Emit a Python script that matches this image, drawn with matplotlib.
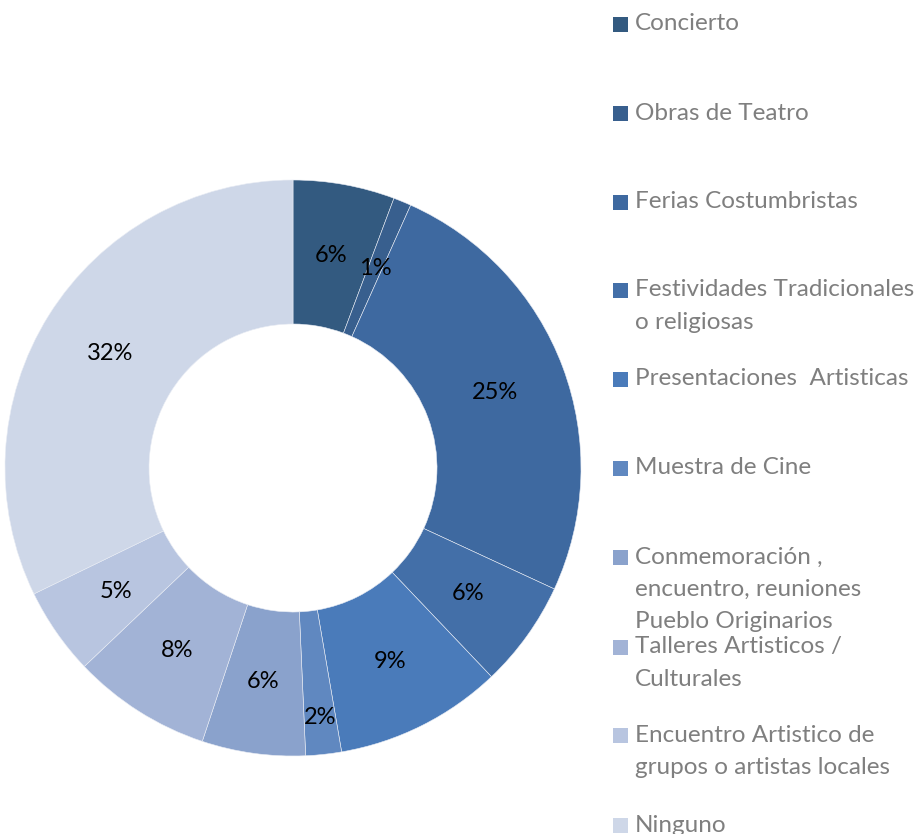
import matplotlib
matplotlib.use("Agg")
import matplotlib.pyplot as plt
import numpy as np
from matplotlib.patches import Rectangle

categories = ["Concierto", "Obras de Teatro", "Ferias Costumbristas",
              "Festividades Tradicionales\no religiosas", "Presentaciones  Artisticas",
              "Muestra de Cine", "Conmemoración ,\nencuentro, reuniones\nPueblo Originarios",
              "Talleres Artisticos /\nCulturales", "Encuentro Artistico de\ngrupos o artistas locales",
              "Ninguno"]
values = [5.7, 1.0, 25.2, 6.0, 9.4, 2.0, 5.8, 7.8, 4.9, 32.2]
labels = ["6%", "1%", "25%", "6%", "9%", "2%", "6%", "8%", "5%", "32%"]
colors = ["#335A80", "#385F8E", "#3E69A0", "#436FA8", "#4A7BBA",
          "#6088C0", "#8AA2CC", "#A2B3D6", "#B8C5E0", "#CED7E8"]
label_radius = [0.75, 0.75, 0.75, 0.75, 0.75, 0.87, 0.75, 0.75, 0.75, 0.75]

W, H = 921, 834
fig = plt.figure(figsize=(W/100, H/100), dpi=100)
fig.patch.set_facecolor("white")

cx, cy, r = 293, 468, 288
ax = fig.add_axes([(cx-r)/W, (H-cy-r)/H, 2*r/W, 2*r/H])
wedges, texts, autotexts = ax.pie(values, colors=colors, startangle=90, counterclock=False,
                                  radius=1, labels=None,
                                  autopct=lambda p: "", pctdistance=0.75,
                                  wedgeprops=dict(width=0.5, edgecolor="#E8ECF4", linewidth=0.4))
for w, t, lab, lr in zip(wedges, autotexts, labels, label_radius):
    ang = np.deg2rad((w.theta1 + w.theta2) / 2)
    t.set_position((lr * np.cos(ang), lr * np.sin(ang)))
    t.set_text(lab)
    t.set_fontsize(17)
    t.set_fontfamily("Lato")
    t.set_color("black")
ax.set_xlim(-1, 1)
ax.set_ylim(-1, 1)
ax.set_aspect("equal")
ax.axis("off")

# legend drawn manually
first_y = [24, 113, 202, 290, 379, 468, 557, 647, 735, 825]
line_h = 32
for cat, col, y in zip(categories, colors, first_y):
    fig.patches.append(Rectangle((613/W, (H-y-8)/H), 15/W, 15/H, transform=fig.transFigure,
                                 facecolor=col, edgecolor="none"))
    for i, line in enumerate(cat.split("\n")):
        fig.text(635/W, (H-(y+i*line_h))/H, line, fontsize=17.5, family="Lato",
                 color="#7F7F7F", va="center", ha="left")

fig.savefig("out.png", dpi=100)
